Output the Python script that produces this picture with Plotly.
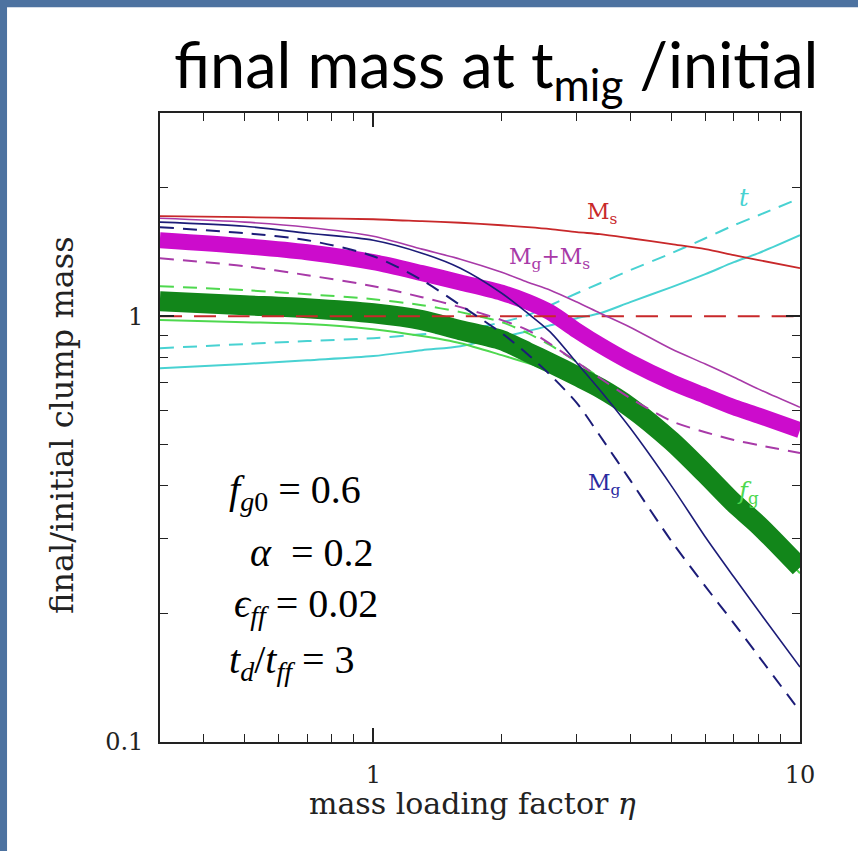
import plotly.graph_objects as go

# ---------------- data ----------------
eta = [0.316, 0.5, 0.7, 1.0, 1.3, 1.6, 2.0, 2.3, 2.6, 3.0, 3.4, 4.0, 5.0, 6.0, 7.0, 8.0, 10.0]

ms_solid = [1.717, 1.708, 1.698, 1.689, 1.671, 1.657, 1.635, 1.618, 1.601, 1.575, 1.558,
            1.524, 1.476, 1.437, 1.391, 1.354, 1.296]
ms_dashed = [1.0] * len(eta)

mgms_thin = [1.698, 1.663, 1.618, 1.541, 1.437, 1.361, 1.268, 1.202, 1.151, 1.079, 1.016,
             0.942, 0.837, 0.772, 0.719, 0.674, 0.611]
mgms_thick = [1.508, 1.460, 1.413, 1.339, 1.262, 1.200, 1.135, 1.080, 1.020, 0.925, 0.855,
              0.780, 0.700, 0.650, 0.611, 0.584, 0.540]
mgms_dashed = [1.368, 1.310, 1.248, 1.176, 1.108, 1.050, 0.979, 0.927, 0.860, 0.780, 0.715,
               0.642, 0.567, 0.534, 0.512, 0.498, 0.477]

mg_solid = [1.663, 1.626, 1.566, 1.508, 1.406, 1.296, 1.132, 1.016, 0.917, 0.776, 0.670,
            0.546, 0.399, 0.303, 0.244, 0.203, 0.150]
mg_dashed = [1.618, 1.566, 1.508, 1.383, 1.215, 1.061, 0.912, 0.814, 0.727, 0.625, 0.523,
             0.412, 0.296, 0.232, 0.190, 0.159, 0.118]

fg_thick = [1.084, 1.061, 1.044, 1.016, 0.979, 0.927, 0.878, 0.823, 0.776, 0.723, 0.678,
            0.611, 0.509, 0.426, 0.364, 0.323, 0.257]
fg_dashed = [1.176, 1.151, 1.126, 1.096, 1.061, 1.022, 0.968, 0.912, 0.855, 0.780, 0.715,
             0.628, 0.523, 0.440, 0.378, 0.336, 0.269]
fg_thin = [0.979, 0.968, 0.958, 0.932, 0.898, 0.864, 0.810, 0.776, 0.747, 0.715, 0.659,
           0.595, 0.495, 0.414, 0.354, 0.315, 0.249]

t_dashed = [0.841, 0.860, 0.874, 0.888, 0.907, 0.922, 0.968, 1.005, 1.061, 1.132, 1.195,
            1.282, 1.406, 1.524, 1.635, 1.726, 1.892]
t_solid = [0.755, 0.772, 0.788, 0.806, 0.832, 0.850, 0.893, 0.922, 0.952, 0.989, 1.016,
           1.079, 1.170, 1.255, 1.339, 1.406, 1.549]

x_major = [1, 10]
x_major_text = ["1", "10"]
x_minor = [0.4, 0.5, 0.6, 0.7, 0.8, 0.9, 2, 3, 4, 5, 6, 7, 8, 9]
y_major = [0.1, 1]
y_major_text = ["0.1", "1"]
y_minor = [0.2, 0.3, 0.4, 0.5, 0.6, 0.7, 0.8, 0.9, 2, 3]

# ---------------- styles ----------------
RED = "#c8282a"
MAG_THIN = "#a83aa8"
MAG = "#cc0ccc"
NAVY = "#1c1c78"
GREEN = "#12861a"
LGREEN = "#4ed84e"
CYAN = "#48d2d2"

fig = go.Figure()


def add(y, color, width, dash="solid"):
    fig.add_trace(go.Scatter(x=eta, y=y, mode="lines",
                             line=dict(color=color, width=width, dash=dash, shape="spline", smoothing=0.8),
                             hoverinfo="skip", showlegend=False))


add(t_solid, CYAN, 2)
add(t_dashed, CYAN, 2, "14px,9px")
add(fg_thin, LGREEN, 2)
add(fg_dashed, LGREEN, 2, "14px,9px")
add(mgms_thick, MAG, 16)
add(fg_thick, GREEN, 20)
add(ms_dashed, RED, 2, "22px,12px")
add(ms_solid, RED, 1.8)
add(mgms_thin, MAG_THIN, 1.6)
add(mgms_dashed, MAG_THIN, 2, "14px,9px")
add(mg_solid, NAVY, 1.6)
add(mg_dashed, NAVY, 2, "14px,9px")

serif = "DejaVu Serif, Liberation Serif, serif"

axis_common = dict(
    type="log", showline=True, linecolor="#222", linewidth=1.6, mirror="ticks",
    ticks="inside", ticklen=14, tickwidth=1.5, tickcolor="#222",
    showgrid=False, zeroline=False,
    tickfont=dict(family=serif, size=24, color="#222"),
    ticklabelstandoff=10,
)

fig.update_xaxes(**axis_common, range=[-0.5, 1], tickmode="array", tickvals=x_major, ticktext=x_major_text,
                 minor=dict(tickmode="array", tickvals=x_minor, ticks="inside", ticklen=8, tickwidth=1.3,
                            tickcolor="#222", showgrid=False))
fig.update_yaxes(**axis_common, range=[-1, 0.4771], tickmode="array", tickvals=y_major, ticktext=y_major_text,
                 minor=dict(tickmode="array", tickvals=y_minor, ticks="inside", ticklen=8, tickwidth=1.3,
                            tickcolor="#222", showgrid=False))

annotations = []


def ann(text, x, y, size, color="#111", family=serif, xanchor="center", textangle=0):
    annotations.append(dict(text=text, x=x, y=y, xref="paper", yref="paper", showarrow=False,
                            xanchor=xanchor, yanchor="middle", textangle=textangle,
                            font=dict(family=family, size=size, color=color)))


ann("final mass at t<sub>mig</sub> /initial", 0.525, 1.072, 63, "#000", "Lato, Noto Sans, sans-serif")
ann("mass loading factor <i>η</i>", 0.4875, -0.097, 30, "#222")
ann("final/initial clump mass", -0.153, 0.504, 32, "#222", textangle=-90)

pfont = "Liberation Serif, DejaVu Serif, serif"
ann("<i>f</i><sub><i>g</i>0</sub> = 0.6", 0.104, 0.397, 40, "#000", pfont, "left")
ann("<i>α</i>  = 0.2", 0.138, 0.302, 40, "#000", pfont, "left")
ann("<i>ϵ</i><sub><i>ff</i></sub> = 0.02", 0.112, 0.216, 40, "#000", pfont, "left")
ann("<i>t</i><sub><i>d</i></sub>/<i>t</i><sub><i>ff</i></sub> = 3", 0.104, 0.127, 40, "#000", pfont, "left")

ann("M<sub>s</sub>", 0.692, 0.841, 22, RED)
ann("M<sub>g</sub>+M<sub>s</sub>", 0.609, 0.769, 22, MAG_THIN)
ann("<i>t</i>", 0.9125, 0.865, 24, CYAN)
ann("M<sub>g</sub>", 0.695, 0.409, 22, "#2a2aa0")
ann("<i>f</i><sub>g</sub>", 0.919, 0.397, 24, LGREEN)

fig.update_layout(
    width=858, height=851,
    margin=dict(l=160, r=58, t=113, b=109),
    paper_bgcolor="#4d72a0",
    plot_bgcolor="white",
    annotations=annotations,
    shapes=[dict(type="rect", xref="paper", yref="paper", x0=-0.239, x1=1.2, y0=-0.2, y1=1.168,
                 fillcolor="white", line=dict(width=0), layer="below")],
)

fig.write_html("out.html", config={"displayModeBar": False},
               post_script="document.body.style.margin='0';")
